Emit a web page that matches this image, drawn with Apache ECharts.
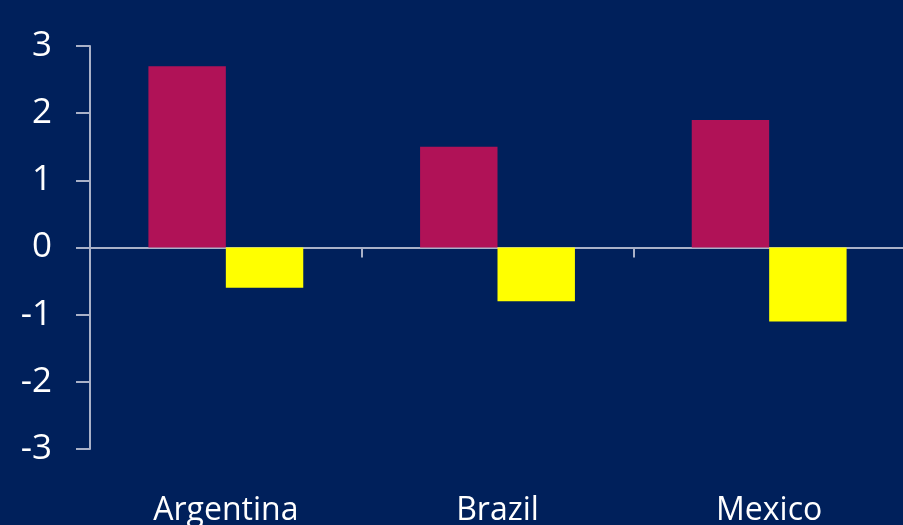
<!DOCTYPE html>
<html>
<head>
<meta charset="utf-8">
<script src="https://cdn.jsdelivr.net/npm/echarts@6/dist/echarts.min.js"></script>
<style>
  html, body { margin: 0; padding: 0; background: #00205B; }
  #chart { width: 903px; height: 525px; }
</style>
</head>
<body>
<div id="chart"></div>
<script>
// Countries on the category axis
const categories = ['Argentina', 'Brazil', 'Mexico'];
// First and second bar series, per country
const seriesUp = [2.7, 1.5, 1.9];
const seriesDown = [-0.6, -0.8, -1.1];
// Value axis range and step
const yMin = -3;
const yMax = 3;
const yStep = 1;

const axisColor = '#A9B1C8';
const textColor = '#FFFFFF';
const font = '"Open Sans", sans-serif';

const chart = echarts.init(document.getElementById('chart'));
chart.setOption({
  backgroundColor: '#00205B',
  animation: false,
  grid: { left: 90, right: -2, top: 46, bottom: 76, containLabel: false, outerBoundsMode: 'none' },
  xAxis: [
    {
      type: 'category',
      data: categories,
      axisLine: { onZero: true, lineStyle: { color: axisColor, width: 2 } },
      axisTick: {
        show: true,
        length: 10,
        // only the inner category boundaries carry a tick
        interval: function (index) { return index > 0 && index < categories.length; },
        lineStyle: { color: axisColor, width: 2 }
      },
      axisLabel: { show: false }
    },
    {
      type: 'category',
      data: categories,
      position: 'bottom',
      axisLine: { show: false, onZero: false },
      axisTick: { show: false },
      axisLabel: {
        color: textColor,
        fontFamily: font,
        fontSize: 32,
        margin: 46
      }
    }
  ],
  yAxis: {
    type: 'value',
    min: yMin,
    max: yMax,
    interval: yStep,
    splitLine: { show: false },
    axisLine: { show: true, lineStyle: { color: axisColor, width: 2 } },
    axisTick: { show: true, length: 14, lineStyle: { color: axisColor, width: 2 } },
    axisLabel: {
      color: textColor,
      fontFamily: font,
      fontSize: 35,
      margin: 38
    }
  },
  series: [
    {
      type: 'bar',
      xAxisIndex: 0,
      data: seriesUp,
      itemStyle: { color: '#B01257' },
      barGap: '0%',
      barCategoryGap: '43%'
    },
    {
      type: 'bar',
      xAxisIndex: 0,
      data: seriesDown,
      itemStyle: { color: '#FFFF00' }
    }
  ]
});
</script>
</body>
</html>
